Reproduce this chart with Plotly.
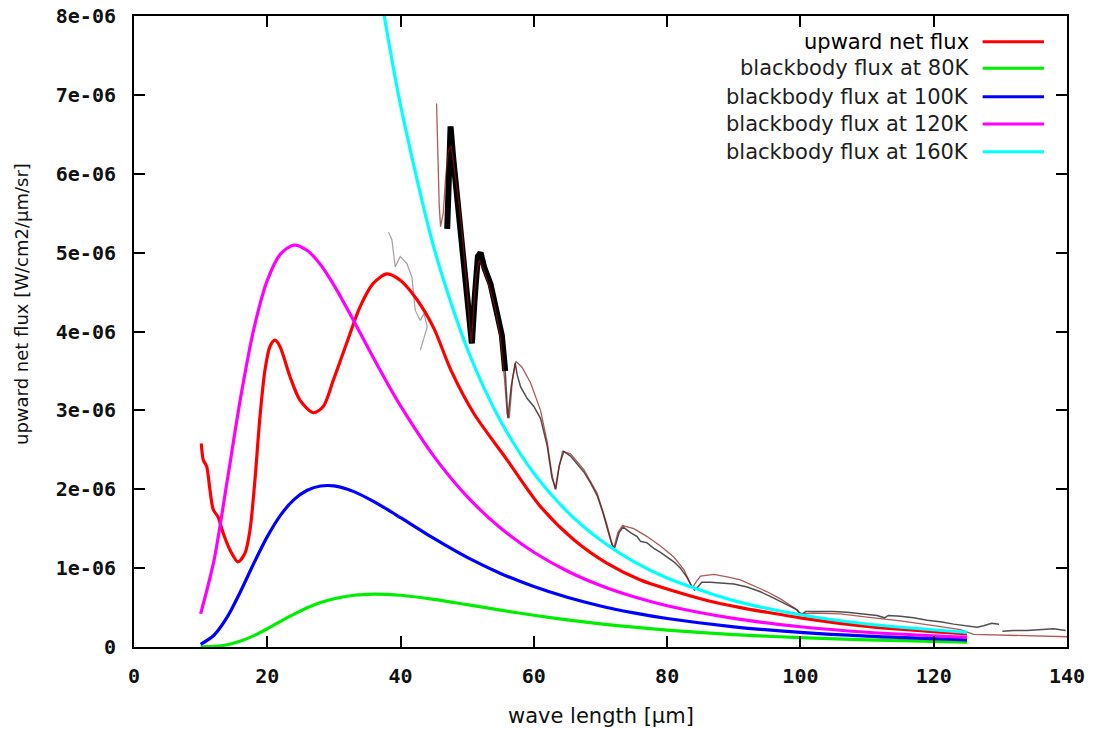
import plotly.graph_objects as go

# ---------------- data (flux in units of 1e-6 W/cm2/um/sr) ----------------
wavelength_bb = [10, 12, 14, 16, 18, 20, 22, 24, 26, 28, 30, 33, 36, 38, 40, 45, 50,
                 55, 60, 65, 70, 75, 80, 90, 100, 110, 125]
bb_80K = [0.001, 0.007, 0.029, 0.075, 0.144, 0.231, 0.326, 0.416, 0.497, 0.563, 0.612,
          0.656, 0.671, 0.667, 0.656, 0.604, 0.537, 0.468, 0.402, 0.344, 0.294, 0.251,
          0.215, 0.158, 0.118, 0.090, 0.061]
bb_100K = [0.034, 0.149, 0.381, 0.706, 1.065, 1.399, 1.672, 1.868, 1.987, 2.041, 2.042,
           1.970, 1.843, 1.744, 1.639, 1.376, 1.136, 0.933, 0.766, 0.630, 0.520, 0.432,
           0.361, 0.256, 0.185, 0.137, 0.090]
bb_120K = [0.420, 1.095, 2.113, 3.162, 4.039, 4.648, 4.985, 5.095, 5.027, 4.847, 4.587,
           4.131, 3.653, 3.346, 3.056, 2.417, 1.906, 1.508, 1.201, 0.963, 0.779, 0.636,
           0.523, 0.362, 0.257, 0.187, 0.121]
wavelength_160K = [33, 36, 38, 40, 45, 50, 55, 60, 65, 70, 75, 80, 90, 100, 110, 125]
bb_160K = [10.673, 8.827, 7.781, 6.866, 5.063, 3.781, 2.866, 2.203, 1.717, 1.356, 1.083,
           0.875, 0.588, 0.409, 0.292, 0.185]

net_wavelength = [10.1, 10.4, 10.9, 11.4, 11.9, 12.6, 13.4, 14.4, 15.6, 16.65, 17.4, 18.15,
                  18.9, 19.65, 20.4, 21.15, 21.9, 23.4, 24.9, 26.9, 28.4, 29.9, 31.9, 33.9,
                  35.9, 37.95, 39.95, 42.5, 45.0, 47.5, 51.0, 56.0, 61.0, 66.0, 71.0,
                  76.0, 81.0, 86.0, 91.0, 95.0, 100.0, 110.0, 125.0]
net_flux = [2.58, 2.37, 2.29, 1.99, 1.74, 1.65, 1.44, 1.23, 1.08, 1.19, 1.48, 2.12,
            2.92, 3.51, 3.81, 3.89, 3.81, 3.43, 3.13, 2.97, 3.05, 3.38, 3.85, 4.31,
            4.61, 4.73, 4.65, 4.40, 4.04, 3.52, 2.96, 2.37, 1.78, 1.36, 1.06,
            0.85, 0.71, 0.59, 0.50, 0.44, 0.37, 0.26, 0.165]

# measured spectrum (black, noisy)
spec_wavelength = [47.0, 47.2, 47.5, 47.9, 48.5, 49.2, 49.8, 50.3, 50.7, 51.1, 51.6, 52.0,
                   52.6, 53.5, 54.5, 55.2, 55.7, 56.1, 56.6, 57.2, 57.5, 58.0, 59.0, 60.0,
                   61.0, 62.0, 62.7, 63.3, 63.8, 64.5, 65.5, 66.5, 67.5, 68.5, 69.5, 70.3,
                   71.0, 71.7, 72.1, 72.8, 73.4, 74.5, 75.5, 76.0, 77.0, 78.0, 79.0, 80.0,
                   81.0, 82.0, 83.0, 83.6, 84.1, 84.6, 85.2, 86.5, 88.0, 90.0, 92.0, 94.0,
                   96.0, 98.0, 99.5, 100.1, 100.8, 103.0, 105.0, 107.0, 109.0, 110.5, 111.5,
                   112.6, 113.2, 115.0, 117.0, 119.0, 121.0, 123.0, 125.0, 126.5, 127.5,
                   128.7, 129.8, None, 130.3, 132.0, 134.0, 136.0, 138.0, 139.8]
spec_flux = [5.3, 6.0, 6.6, 6.2, 5.7, 5.2, 4.75, 4.3, 3.85, 4.4, 4.95, 5.0,
             4.8, 4.6, 4.25, 3.95, 3.5, 2.9, 3.3, 3.6, 3.45, 3.30, 3.15, 3.05,
             2.9, 2.55, 2.15, 2.0, 2.3, 2.48, 2.42, 2.32, 2.22, 2.08, 1.92, 1.72,
             1.52, 1.30, 1.25, 1.45, 1.52, 1.45, 1.40, 1.34, 1.32, 1.25, 1.20, 1.14,
             1.08, 1.00, 0.88, 0.78, 0.72, 0.76, 0.82, 0.82, 0.81, 0.80, 0.76, 0.70,
             0.62, 0.54, 0.47, 0.41, 0.45, 0.45, 0.45, 0.44, 0.42, 0.41, 0.40,
             0.37, 0.40, 0.39, 0.37, 0.34, 0.32, 0.29, 0.27, 0.25, 0.27,
             0.30, 0.29, None, 0.20, 0.21, 0.21, 0.22, 0.23, 0.21]

# fitted spectrum (thin dark red)
fit_wavelength = [45.4, 45.6, 45.8, 46.0, 46.4, 46.8, 47.2, 47.6, 48.2, 48.8, 49.4, 49.9,
                  50.3, 50.6, 50.9, 51.3, 51.8, 52.4, 53.2, 54.2, 55.0, 55.6, 56.0, 56.3,
                  56.8, 57.3, 58.2, 59.5, 61.0, 62.0, 62.7, 63.2, 63.6, 64.3, 65.5, 67.5,
                  69.5, 70.8, 71.6, 72.0, 72.6, 73.3, 75.0, 77.0, 79.0, 81.0, 82.5, 83.4,
                  83.8, 84.3, 85.0, 87.0, 89.0, 91.0, 93.0, 95.0, 97.0, 99.0, 99.8, 100.3,
                  102.0, 106.0, 110.0, 115.0, 120.0, 124.0, 126.0, 130.0, 135.0, 140.0]
fit_flux = [6.89, 6.2, 5.6, 5.33, 5.5, 6.0, 6.3, 6.35, 6.0, 5.6, 5.1, 4.6,
            4.1, 3.85, 4.2, 4.7, 4.9, 4.8, 4.6, 4.3, 3.9, 3.4, 2.95, 2.9,
            3.4, 3.62, 3.55, 3.35, 3.0, 2.6, 2.2, 2.0, 2.2, 2.48, 2.45, 2.25,
            1.95, 1.6, 1.35, 1.25, 1.45, 1.54, 1.50, 1.40, 1.28, 1.14, 0.98, 0.82,
            0.75, 0.82, 0.90, 0.92, 0.89, 0.85, 0.78, 0.70, 0.61, 0.50, 0.44, 0.42,
            0.43, 0.42, 0.38, 0.33, 0.27, 0.22, 0.16, 0.15, 0.14, 0.13]

# faint partial spectrum near 40 um
faint_wavelength = [38.2, 38.7, 39.2, 39.95, 40.96, 41.7, 42.2, 42.96, 43.5, 44.0, 42.96]
faint_flux = [5.26, 5.16, 4.82, 4.95, 4.86, 4.69, 4.27, 4.14, 4.23, 4.06, 3.76]

legend_labels = ["upward net flux", "blackbody flux at 80K", "blackbody flux at 100K",
                 "blackbody flux at 120K", "blackbody flux at 160K"]
legend_colors = ["#ff0000", "#00ee00", "#0000ff", "#ff00ff", "#00ffff"]

x_ticks = [0, 20, 40, 60, 80, 100, 120, 140]
y_ticks = [0, 1, 2, 3, 4, 5, 6, 7, 8]
y_ticktext = ["0", "1e-06", "2e-06", "3e-06", "4e-06", "5e-06", "6e-06", "7e-06", "8e-06"]

# ---------------- figure ----------------
fig = go.Figure()

fig.add_trace(go.Scatter(x=faint_wavelength, y=faint_flux, mode="lines",
                         line=dict(color="rgba(60,40,40,0.45)", width=1.2),
                         showlegend=False, hoverinfo="skip"))
fig.add_trace(go.Scatter(x=spec_wavelength, y=spec_flux, mode="lines",
                         line=dict(color="rgba(20,20,20,0.75)", width=1.5),
                         showlegend=False, hoverinfo="skip"))
dense_x = [x for x in spec_wavelength if x is not None and x <= 55.8]
dense_y = [y for x, y in zip(spec_wavelength, spec_flux) if x is not None and x <= 55.8]
fig.add_trace(go.Scatter(x=dense_x, y=dense_y, mode="lines",
                         line=dict(color="#000000", width=6),
                         showlegend=False, hoverinfo="skip"))
fig.add_trace(go.Scatter(x=fit_wavelength, y=fit_flux, mode="lines",
                         line=dict(color="rgba(139,20,20,0.7)", width=1.3),
                         showlegend=False, hoverinfo="skip"))

series = [(net_wavelength, net_flux), (wavelength_bb, bb_80K), (wavelength_bb, bb_100K),
          (wavelength_bb, bb_120K), (wavelength_160K, bb_160K)]
for (xs, ys), name, col in zip(series, legend_labels, legend_colors):
    fig.add_trace(go.Scatter(x=xs, y=ys, mode="lines", name=name,
                             line=dict(color=col, width=3.2, shape="spline", smoothing=0.8),
                             showlegend=False))

# legend drawn gnuplot-style: text right-aligned, sample on the right
annotations = []
shapes = []
row_y = [0.9593, 0.9171, 0.8721, 0.8288, 0.7849]
for lab, col, yy in zip(legend_labels, legend_colors, row_y):
    annotations.append(dict(x=0.8968, y=yy, xref="paper", yref="paper", text=lab,
                            showarrow=False, xanchor="right", yanchor="middle",
                            font=dict(family="DejaVu Sans", size=21,
                                      color="#000000" if lab == legend_labels[0] else "#1e1e1e")))
    shapes.append(dict(type="line", xref="paper", yref="paper", x0=0.9096, x1=0.9754,
                       y0=yy, y1=yy, line=dict(color=col, width=3)))

annotations.append(dict(x=-0.12, y=0.5436, xref="paper", yref="paper",
                        text="upward net flux [W/cm2/µm/sr]", textangle=-90,
                        showarrow=False, xanchor="center", yanchor="middle",
                        font=dict(family="DejaVu Sans", size=18, color="#111111")))
annotations.append(dict(x=0.5, y=-0.1093, xref="paper", yref="paper",
                        text="wave length [µm]", showarrow=False,
                        xanchor="center", yanchor="middle",
                        font=dict(family="DejaVu Sans", size=21, color="#111111")))

axis_common = dict(showgrid=False, zeroline=False, showline=True, linecolor="black",
                   linewidth=2, mirror="ticks", ticks="inside", ticklen=11, tickwidth=2,
                   tickcolor="black", automargin=False,
                   tickfont=dict(family="DejaVu Sans Mono", size=20, color="#111111",
                                 weight="bold"))

fig.update_layout(
    width=1093, height=729,
    margin=dict(l=134, r=26, t=16, b=82),
    paper_bgcolor="white", plot_bgcolor="white",
    xaxis=dict(range=[0, 140], tickvals=x_ticks, ticklabelstandoff=10, **axis_common),
    yaxis=dict(range=[0, 8], tickvals=y_ticks, ticktext=y_ticktext,
               ticklabelstandoff=12, **axis_common),
    annotations=annotations, shapes=shapes, showlegend=False,
)

fig.write_html("out.html", config={"displayModeBar": False})
